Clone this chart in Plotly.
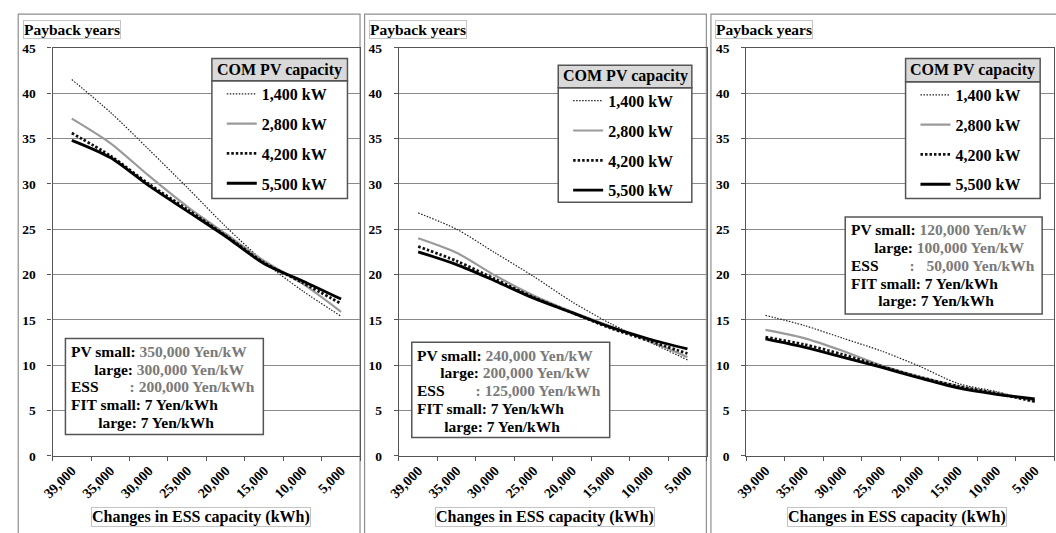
import plotly.graph_objects as go

W, H = 1056, 533

# ---------------- data ----------------
categories = ["39,000", "35,000", "30,000", "25,000", "20,000", "15,000", "10,000", "5,000"]
series_names = ["1,400 kW", "2,800 kW", "4,200 kW", "5,500 kW"]

# Panel 1: PV 350,000/300,000 Yen/kW, ESS 200,000 Yen/kWh
p1_1400 = [41.5, 37.9, 33.8, 29.6, 25.3, 21.4, 18.2, 15.4]
p1_2800 = [37.2, 34.5, 30.9, 27.5, 24.5, 21.5, 19.0, 15.9]
p1_4200 = [35.6, 33.1, 30.0, 27.2, 24.3, 21.3, 19.1, 16.8]
p1_5500 = [34.8, 32.9, 29.8, 27.0, 24.2, 21.2, 19.3, 17.3]

# Panel 2: PV 240,000/200,000 Yen/kW, ESS 125,000 Yen/kWh
p2_1400 = [26.8, 25.0, 22.4, 19.8, 17.0, 14.6, 12.6, 10.6]
p2_2800 = [24.0, 22.4, 19.9, 17.7, 15.9, 14.3, 12.7, 10.9]
p2_4200 = [23.1, 21.5, 19.5, 17.5, 15.8, 14.1, 12.7, 11.3]
p2_5500 = [22.5, 21.1, 19.3, 17.4, 15.8, 14.2, 12.9, 11.8]

# Panel 3: PV 120,000/100,000 Yen/kW, ESS 50,000 Yen/kWh
p3_1400 = [15.5, 14.4, 13.0, 11.6, 9.9, 8.0, 7.1, 6.0]
p3_2800 = [13.9, 13.0, 11.6, 10.0, 8.75, 7.7, 7.0, 6.1]
p3_4200 = [13.1, 12.3, 11.2, 9.9, 8.7, 7.7, 6.9, 6.0]
p3_5500 = [12.9, 12.0, 10.9, 9.8, 8.6, 7.5, 6.8, 6.3]

panel_data = [
    [p1_1400, p1_2800, p1_4200, p1_5500],
    [p2_1400, p2_2800, p2_4200, p2_5500],
    [p3_1400, p3_2800, p3_4200, p3_5500],
]

y_ticks = [0, 5, 10, 15, 20, 25, 30, 35, 40, 45]

param_pv_small = ["350,000", "240,000", "120,000"]
param_pv_large = ["300,000", "200,000", "100,000"]
param_ess = [": 200,000", ": 125,000", ":\u00a0\u00a0\u00a050,000"]

# ---------------- styling ----------------
FONT = "Liberation Serif"
GRAY_TXT = "#7a7a7a"
line_styles = [
    dict(color="#222222", width=1.2, dash="1.5px,1.5px"),
    dict(color="#9a9a9a", width=2.2, dash="solid"),
    dict(color="#111111", width=2.8, dash="2.5px,2px"),
    dict(color="#000000", width=2.8, dash="solid"),
]

def px(x):
    return x / W

def py(y):
    return 1 - y / H

# plot-area pixel positions (left, right) per panel
plot_x = [(42, 353), (392, 703), (743, 1054)]
y_top, y_bot = 42, 462
frame_x = [(7.3, 352.7), (357.3, 702.7), (707.3, 1070)]

legend_box = [(203, 340, 53, 76, 197), (553, 688, 60, 83, 201), (904, 1040, 53, 77, 197)]
param_box = [(55, 341, 255, 440), (405, 345, 605, 443), (843, 216, 1042, 316)]
line_offsets = [13.3, 31.5, 50, 68, 86.2]
xtitle_cx = [192, 540, 895]

fig = go.Figure()
shapes = []
annotations = []
layout_axes = {}
nb = "\u00a0"

for i in range(3):
    xa = "x" if i == 0 else f"x{i+1}"
    ya = "y" if i == 0 else f"y{i+1}"
    leg = "legend" if i == 0 else f"legend{i+1}"
    for j, (name, vals) in enumerate(zip(series_names, panel_data[i])):
        fig.add_trace(go.Scatter(
            x=categories, y=vals, name=name, mode="lines",
            line=dict(shape="spline", smoothing=0.8, **line_styles[j]),
            xaxis=xa, yaxis=ya, legend=leg, legendgroup=f"p{i}s{j}",
            showlegend=True, hoverinfo="skip",
        ))
    x0, x1 = plot_x[i]
    xkey = "xaxis" if i == 0 else f"xaxis{i+1}"
    ykey = "yaxis" if i == 0 else f"yaxis{i+1}"
    layout_axes[xkey] = dict(
        domain=[px(x0), px(x1)], anchor=ya, type="category",
        categoryorder="array", categoryarray=categories,
        range=[-0.5, len(categories) - 0.5],
        tickson="boundaries", ticks="outside", ticklen=4, tickcolor="#555",
        tickangle=-45, showgrid=False, zeroline=False,
        showline=True, linecolor="#555", linewidth=1.3, mirror=True,
        tickfont=dict(family=FONT, size=14, color="black", weight="bold"),
        fixedrange=True,
    )
    layout_axes[ykey] = dict(
        domain=[py(y_bot), py(y_top)], anchor=xa, range=[0, 45],
        tickvals=y_ticks, ticks="outside", ticklen=4, tickcolor="#555",
        showgrid=True, gridcolor="#8a8a8a", gridwidth=1, zeroline=False,
        showline=True, linecolor="#555", linewidth=1.3, mirror=True,
        tickfont=dict(family=FONT, size=13.5, color="black", weight="bold"),
        ticklabelstandoff=9, fixedrange=True,
    )

    # panel frame
    fx0, fx1 = frame_x[i]
    shapes.append(dict(type="rect", xref="paper", yref="paper",
                       x0=px(fx0), x1=px(fx1), y0=py(560), y1=py(7.3),
                       line=dict(color="#8f8f8f", width=1.2), layer="below"))

    # "Payback years" label
    annotations.append(dict(
        xref="paper", yref="paper", x=px(frame_x[i][0] + 4.5), y=py(13.3),
        xanchor="left", yanchor="top", showarrow=False,
        text="<b>Payback years</b>",
        font=dict(family=FONT, size=15.5, color="black"),
        bordercolor="#c4c4c4", borderwidth=1, borderpad=0, bgcolor="white",
    ))

    # x title
    annotations.append(dict(
        xref="paper", yref="paper", x=px(xtitle_cx[i]), y=py(525),
        xanchor="center", yanchor="middle", showarrow=False,
        text="<b>Changes in ESS capacity (kWh)</b>",
        font=dict(family=FONT, size=16, color="black"),
        bordercolor="#c4c4c4", borderwidth=1, borderpad=0, bgcolor="white",
    ))

    # legend box + header
    lx0, lx1, hy0, hy1, by1 = legend_box[i]
    shapes.append(dict(type="rect", xref="paper", yref="paper",
                       x0=px(lx0), x1=px(lx1), y0=py(by1), y1=py(hy1),
                       line=dict(color="#555", width=1.5), fillcolor="white",
                       layer="above"))
    shapes.append(dict(type="rect", xref="paper", yref="paper",
                       x0=px(lx0), x1=px(lx1), y0=py(hy1), y1=py(hy0),
                       line=dict(color="#555", width=1.5), fillcolor="#d9d9d9",
                       layer="above"))
    annotations.append(dict(
        xref="paper", yref="paper", x=px((lx0 + lx1) / 2), y=py((hy0 + hy1) / 2),
        xanchor="center", yanchor="middle", showarrow=False,
        text="<b>COM PV capacity</b>",
        font=dict(family=FONT, size=16, color="black"),
    ))
    layout_axes[leg] = dict(
        x=px(lx0 + 10), y=py(hy1 - 4), xanchor="left", yanchor="top",
        bgcolor="rgba(0,0,0,0)", borderwidth=0,
        font=dict(family=FONT, size=16, color="black", weight="bold"),
        traceorder="grouped", tracegroupgap=6, itemclick=False,
        itemdoubleclick=False,
    )

    # parameter text box
    bx0, by0, bx1, by1b = param_box[i]
    shapes.append(dict(type="rect", xref="paper", yref="paper",
                       x0=px(bx0), x1=px(bx1), y0=py(by1b), y1=py(by0),
                       line=dict(color="#555", width=1.5), fillcolor="white",
                       layer="above"))
    lines = [
        f"<b>PV small: <span style='color:{GRAY_TXT}'>{param_pv_small[i]} Yen/kW</span></b>",
        f"<b>{nb*6}large: <span style='color:{GRAY_TXT}'>{param_pv_large[i]} Yen/kW</span></b>",
        f"<b>ESS{nb*8}<span style='color:{GRAY_TXT}'>{param_ess[i]} Yen/kWh</span></b>",
        "<b>FIT small: 7 Yen/kWh</b>",
        f"<b>{nb*7}large: 7 Yen/kWh</b>",
    ]
    for k, t in enumerate(lines):
        annotations.append(dict(
            xref="paper", yref="paper", x=px(bx0 + 3.5), y=py(by0 + line_offsets[k]),
            xanchor="left", yanchor="middle", showarrow=False, align="left",
            text=t, font=dict(family=FONT, size=15.5, color="black"),
        ))

fig.update_layout(
    width=W, height=H, margin=dict(l=0, r=0, t=0, b=0),
    paper_bgcolor="white", plot_bgcolor="white",
    shapes=shapes, annotations=annotations,
    font=dict(family=FONT, color="black"),
    **layout_axes,
)

fig.write_html("out.html", config={"displayModeBar": False},
               post_script="document.body.style.margin='0px';document.body.style.padding='0px';")
